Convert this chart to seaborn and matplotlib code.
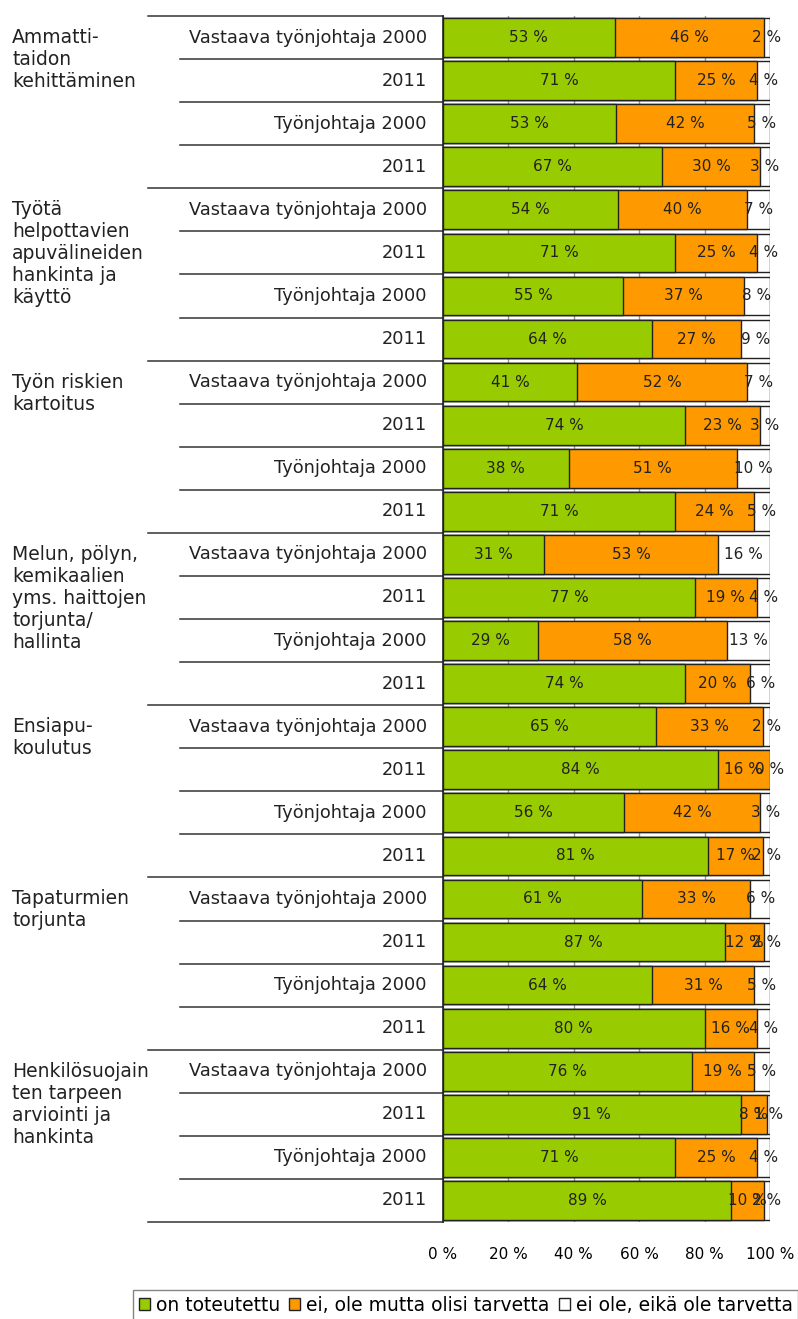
import pandas as pd
import numpy as np
import seaborn as sns
import matplotlib.pyplot as plt
from matplotlib.patches import Patch
import matplotlib.transforms as mtransforms

# Categories
groups = [
    'Ammatti-\ntaidon\nkehittäminen',
    'Työtä\nhelpottavien\napuvälineiden\nhankinta ja\nkäyttö',
    'Työn riskien\nkartoitus',
    'Melun, pölyn,\nkemikaalien\nyms. haittojen\ntorjunta/\nhallinta',
    'Ensiapu-\nkoulutus',
    'Tapaturmien\ntorjunta',
    'Henkilösuojain\nten tarpeen\narviointi ja\nhankinta',
]
rows = ['Vastaava työnjohtaja 2000', '2011', 'Työnjohtaja 2000', '2011']

# Values (%), 4 rows per group
toteutettu = [53, 71, 53, 67,
              54, 71, 55, 64,
              41, 74, 38, 71,
              31, 77, 29, 74,
              65, 84, 56, 81,
              61, 87, 64, 80,
              76, 91, 71, 89]
olisi_tarvetta = [46, 25, 42, 30,
                  40, 25, 37, 27,
                  52, 23, 51, 24,
                  53, 19, 58, 20,
                  33, 16, 42, 17,
                  33, 12, 31, 16,
                  19, 8, 25, 10]
ei_tarvetta = [2, 4, 5, 3,
               7, 4, 8, 9,
               7, 3, 10, 5,
               16, 4, 13, 6,
               2, 0, 3, 2,
               6, 2, 5, 4,
               5, 1, 4, 2]

series = ['on toteutettu', 'ei, ole mutta olisi tarvetta', 'ei ole, eikä ole tarvetta']
colors = ['#99CC00', '#FF9900', '#FFFFFF']

a = np.array(toteutettu, float)
b = np.array(olisi_tarvetta, float)
c = np.array(ei_tarvetta, float)
tot = a + b + c
# 100 % stacked: normalise each row
p1 = a / tot * 100
p2 = (a + b) / tot * 100
p3 = np.full_like(p1, 100.0)

n = len(toteutettu)
df = pd.DataFrame({'row': [str(i) for i in range(n)], 'c1': p1, 'c2': p2, 'c3': p3})

fig = plt.figure(figsize=(7.98, 13.19), dpi=100)
ax = fig.add_axes([443 / 798, 1 - 1222 / 1319, 327 / 798, (1222 - 16) / 1319])

edge = '#222222'
for col, colr in zip(['c3', 'c2', 'c1'], colors[::-1]):
    sns.barplot(data=df, x=col, y='row', orient='h', color=colr, width=0.9,
                edgecolor=edge, linewidth=1.0, saturation=1, ax=ax, zorder=3)

ax.set_xlim(0, 100)
ax.set_ylim(n - 0.5, -0.5)
ax.set_xticks([0, 20, 40, 60, 80, 100])
ax.set_xticklabels(['0 %', '20 %', '40 %', '60 %', '80 %', '100 %'], fontsize=11)
ax.tick_params(axis='x', length=0, pad=18)
ax.set_yticks([])
ax.set_xlabel('')
ax.set_ylabel('')
ax.grid(axis='x', color='#999999', linewidth=1, zorder=0)
ax.set_axisbelow(True)
for s in ['top', 'right', 'bottom']:
    ax.spines[s].set_visible(False)
ax.spines['left'].set_color(edge)
ax.spines['left'].set_linewidth(1.2)
ax.spines['left'].set_zorder(5)

# value labels
vals = [a, b, c]
lefts = [np.zeros(n), p1, p2]
rights = [p1, p2, p3]
for v, l, r in zip(vals, lefts, rights):
    for i in range(n):
        ax.text((l[i] + r[i]) / 2, i, f'{int(v[i])} %', ha='center', va='center',
                fontsize=11, color='#222222', zorder=6)

# category labels and separators
trans = mtransforms.blended_transform_factory(ax.transAxes, ax.transData)
for i in range(n):
    ax.text(-0.049, i, rows[i % 4], transform=trans, ha='right', va='center',
            fontsize=12.8, color='#222222')
for i in range(n + 1):
    x0 = -0.902 if i % 4 == 0 else -0.804
    ax.plot([x0, 0], [i - 0.5, i - 0.5], transform=trans, color='#333333',
            linewidth=1.1, clip_on=False)
for g, name in enumerate(groups):
    ax.text(-1.318, 4 * g - 0.22, name, transform=trans, ha='left', va='top',
            fontsize=13.5, color='#222222', linespacing=1.2)

handles = [Patch(facecolor=colr, edgecolor=edge, label=s) for s, colr in zip(series, colors)]
fig.legend(handles=handles, loc='upper left', bbox_to_anchor=(133 / 798, 1 - 1290 / 1319),
           ncol=3, fontsize=13.5, frameon=True, fancybox=False, edgecolor='#666666',
           handlelength=0.6, handleheight=0.6, handletextpad=0.3, columnspacing=0.5,
           borderpad=0.3, borderaxespad=0)

fig.savefig('out.png', dpi=100)
